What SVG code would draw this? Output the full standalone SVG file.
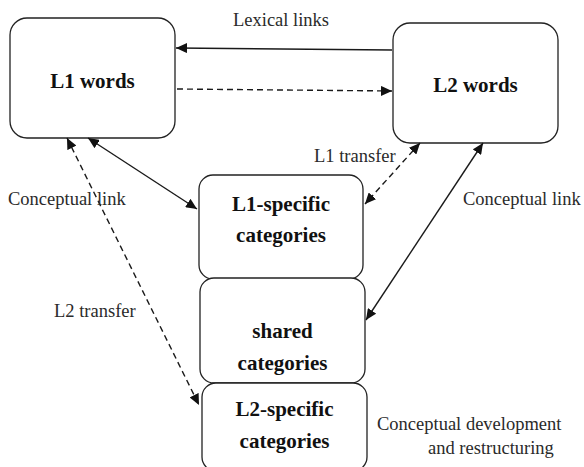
<svg xmlns="http://www.w3.org/2000/svg" width="584" height="467" viewBox="0 0 584 467">
<defs>
<style>
.box{fill:#fff;stroke:#222;stroke-width:1.3}
.lbl{font-weight:bold;font-size:21px;fill:#111;text-anchor:middle}
.txt{font-size:18.5px;fill:#2a2a2a}
.ln{stroke:#1a1a1a;stroke-width:1.4;fill:none}
.dash{stroke-dasharray:6 4}
</style>
<marker id="ah" markerUnits="userSpaceOnUse" markerWidth="12" markerHeight="10" refX="11" refY="5" orient="auto-start-reverse">
<path d="M0,0 L11,5 L0,10 Z" fill="#111"/>
</marker>
</defs>
<rect width="584" height="467" fill="#fff"/>
<g font-family="Liberation Serif, Times New Roman, DejaVu Serif, serif">
<g id="n-l1words">
<rect class="box" x="10" y="18" width="165" height="120" rx="17"/>
<text class="lbl" x="92.5" y="88">L1 words</text>
</g>
<g id="n-l2words">
<rect class="box" x="393" y="23" width="165" height="120" rx="17"/>
<text class="lbl" x="475.5" y="92">L2 words</text>
</g>
<g id="n-l1spec">
<rect class="box" x="199" y="175" width="164" height="104" rx="14"/>
<text class="lbl" x="281" y="211">L1-specific</text>
<text class="lbl" x="281" y="242">categories</text>
</g>
<g id="n-shared">
<rect class="box" x="200" y="278" width="165" height="105" rx="14"/>
<text class="lbl" x="282.5" y="338">shared</text>
<text class="lbl" x="282.5" y="370">categories</text>
</g>
<g id="n-l2spec">
<rect class="box" x="202" y="383" width="165" height="88" rx="14"/>
<text class="lbl" x="284.5" y="416">L2-specific</text>
<text class="lbl" x="284.5" y="448">categories</text>
</g>
<g id="connectors">
<line class="ln" x1="392" y1="50" x2="176" y2="48" marker-end="url(#ah)"/>
<line class="ln dash" x1="177" y1="89" x2="392" y2="91" marker-end="url(#ah)"/>
<line class="ln" x1="88" y1="138" x2="197" y2="209" marker-start="url(#ah)" marker-end="url(#ah)"/>
<line class="ln dash" x1="420" y1="143" x2="365" y2="204" marker-start="url(#ah)" marker-end="url(#ah)"/>
<line class="ln" x1="483" y1="143" x2="366" y2="320" marker-start="url(#ah)" marker-end="url(#ah)"/>
<line class="ln dash" x1="67" y1="138" x2="199" y2="405" marker-start="url(#ah)" marker-end="url(#ah)"/>
</g>
<g id="labels">
<text class="txt" x="233" y="26">Lexical links</text>
<text class="txt" x="314" y="162">L1 transfer</text>
<text class="txt" x="8" y="205">Conceptual link</text>
<text class="txt" x="463" y="205">Conceptual link</text>
<text class="txt" x="54" y="317">L2 transfer</text>
<text class="txt" x="377" y="430">Conceptual development</text>
<text class="txt" x="428" y="454">and restructuring</text>
</g>
</g>
</svg>
